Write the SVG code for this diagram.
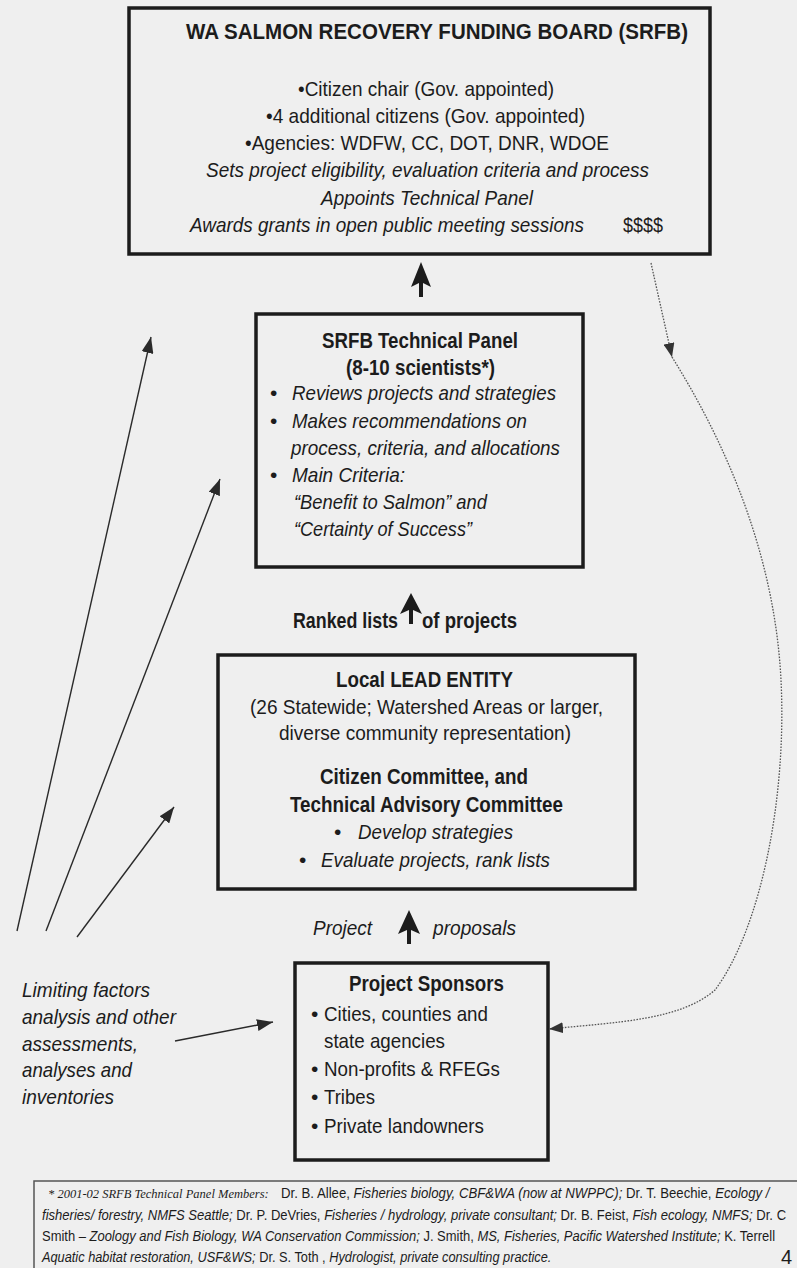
<svg xmlns="http://www.w3.org/2000/svg" width="797" height="1268" viewBox="0 0 797 1268">
<defs>
<style>
.t{font-family:'Liberation Sans Narrow','Liberation Sans',Arial,sans-serif;font-size:21px;fill:#1c1c1c}
.b{font-weight:bold;font-size:22px}
.i{font-style:italic}
.box{fill:none;stroke:#1c1c1c;stroke-width:3.5}
.fn{font-family:'Liberation Sans',Arial,sans-serif;font-size:14px;fill:#1c1c1c}
.fs{font-family:'Liberation Serif','Times New Roman',serif;font-style:italic;font-size:12.5px;fill:#1c1c1c}
.thin{stroke:#2a2a2a;stroke-width:1.4;fill:none}
.dot{stroke:#555;stroke-width:1.3;stroke-dasharray:1.6 1.4;fill:none}
.thick{fill:#1c1c1c}
</style>
<marker id="ah" viewBox="0 0 16 12" refX="16" refY="6" markerWidth="16" markerHeight="12" orient="auto" markerUnits="userSpaceOnUse">
<path d="M0,0 L16,6 L0,12 Z" fill="#2a2a2a"/>
</marker>
<marker id="ahd" viewBox="0 0 14 11" refX="14" refY="5.5" markerWidth="14" markerHeight="11" orient="auto" markerUnits="userSpaceOnUse">
<path d="M0,0 L14,5.5 L0,11 Z" fill="#333"/>
</marker>
</defs>
<rect x="0" y="0" width="797" height="1268" fill="#efefef"/>

<g id="srfb">
<rect class="box" x="129" y="8" width="581" height="246" stroke-width="4"/>
<text class="t b" x="186" y="39" textLength="502" lengthAdjust="spacingAndGlyphs">WA SALMON RECOVERY FUNDING BOARD (SRFB)</text>
<text class="t" x="298" y="96" textLength="256" lengthAdjust="spacingAndGlyphs">•Citizen chair (Gov. appointed)</text>
<text class="t" x="266" y="123" textLength="319" lengthAdjust="spacingAndGlyphs">•4 additional citizens (Gov. appointed)</text>
<text class="t" x="245" y="150" textLength="364" lengthAdjust="spacingAndGlyphs">•Agencies: WDFW, CC, DOT, DNR, WDOE</text>
<text class="t i" x="206" y="177" textLength="443" lengthAdjust="spacingAndGlyphs">Sets project eligibility, evaluation criteria and process</text>
<text class="t i" x="321" y="205" textLength="212" lengthAdjust="spacingAndGlyphs">Appoints Technical Panel</text>
<text class="t i" x="190" y="232" textLength="394" lengthAdjust="spacingAndGlyphs">Awards grants in open public meeting sessions</text>
<text class="t" x="623" y="232" textLength="40" lengthAdjust="spacingAndGlyphs">$$$$</text>
</g>

<g id="panel">
<rect class="box" x="256" y="314" width="327" height="253"/>
<text class="t b" x="322" y="348" textLength="196" lengthAdjust="spacingAndGlyphs">SRFB Technical Panel</text>
<text class="t b" x="346" y="375" textLength="149" lengthAdjust="spacingAndGlyphs">(8-10 scientists*)</text>
<text class="t" x="270" y="400">•</text>
<text class="t i" x="292" y="400" textLength="264" lengthAdjust="spacingAndGlyphs">Reviews projects and strategies</text>
<text class="t" x="270" y="428">•</text>
<text class="t i" x="292" y="428" textLength="235" lengthAdjust="spacingAndGlyphs">Makes recommendations on</text>
<text class="t i" x="291" y="455" textLength="269" lengthAdjust="spacingAndGlyphs">process, criteria, and allocations</text>
<text class="t" x="270" y="482">•</text>
<text class="t i" x="292" y="482" textLength="113" lengthAdjust="spacingAndGlyphs">Main Criteria:</text>
<text class="t i" x="294" y="509" textLength="193" lengthAdjust="spacingAndGlyphs">“Benefit to Salmon” and</text>
<text class="t i" x="294" y="536" textLength="178" lengthAdjust="spacingAndGlyphs">“Certainty of Success”</text>
</g>

<g id="lead">
<rect class="box" x="218" y="655" width="417" height="234"/>
<text class="t b" x="336" y="687" textLength="177" lengthAdjust="spacingAndGlyphs">Local LEAD ENTITY</text>
<text class="t" x="250" y="714" textLength="353" lengthAdjust="spacingAndGlyphs">(26 Statewide; Watershed Areas or larger,</text>
<text class="t" x="279" y="740" textLength="292" lengthAdjust="spacingAndGlyphs">diverse community representation)</text>
<text class="t b" x="320" y="784" textLength="208" lengthAdjust="spacingAndGlyphs">Citizen Committee, and</text>
<text class="t b" x="290" y="812" textLength="273" lengthAdjust="spacingAndGlyphs">Technical Advisory Committee</text>
<text class="t" x="334" y="839">•</text>
<text class="t i" x="358" y="839" textLength="155" lengthAdjust="spacingAndGlyphs">Develop strategies</text>
<text class="t" x="299" y="867">•</text>
<text class="t i" x="321" y="867" textLength="229" lengthAdjust="spacingAndGlyphs">Evaluate projects, rank lists</text>
</g>

<g id="sponsors">
<rect class="box" x="295" y="963" width="253" height="197"/>
<text class="t b" x="349" y="991" textLength="155" lengthAdjust="spacingAndGlyphs">Project Sponsors</text>
<text class="t" x="311" y="1021">•</text>
<text class="t" x="324" y="1021" textLength="164" lengthAdjust="spacingAndGlyphs">Cities, counties and</text>
<text class="t" x="324" y="1048" textLength="121" lengthAdjust="spacingAndGlyphs">state agencies</text>
<text class="t" x="311" y="1076">•</text>
<text class="t" x="324" y="1076" textLength="176" lengthAdjust="spacingAndGlyphs">Non-profits &amp; RFEGs</text>
<text class="t" x="311" y="1104">•</text>
<text class="t" x="324" y="1104" textLength="51" lengthAdjust="spacingAndGlyphs">Tribes</text>
<text class="t" x="311" y="1133">•</text>
<text class="t" x="324" y="1133" textLength="160" lengthAdjust="spacingAndGlyphs">Private landowners</text>
</g>

<g id="inputs">
<text class="t i" x="22" y="997" textLength="128" lengthAdjust="spacingAndGlyphs">Limiting factors</text>
<text class="t i" x="22" y="1024" textLength="154" lengthAdjust="spacingAndGlyphs">analysis and other</text>
<text class="t i" x="22" y="1051" textLength="116" lengthAdjust="spacingAndGlyphs">assessments,</text>
<text class="t i" x="22" y="1077" textLength="110" lengthAdjust="spacingAndGlyphs">analyses and</text>
<text class="t i" x="22" y="1104" textLength="92" lengthAdjust="spacingAndGlyphs">inventories</text>
</g>

<g id="connectors">
<path class="thick" d="M421,262 L431,287 L423,283 L423,297 L419,297 L419,283 L411,287 Z"/>
<path class="thick" d="M411,593 L422,614 L413,610 L413,624 L409,624 L409,610 L400,614 Z"/>
<path class="thick" d="M409,910 L420,934 L411,930 L411,944 L407,944 L407,930 L398,934 Z"/>
<text class="t b" x="293" y="628" textLength="105" lengthAdjust="spacingAndGlyphs">Ranked lists</text>
<text class="t b" x="422" y="628" textLength="95" lengthAdjust="spacingAndGlyphs">of projects</text>
<text class="t i" x="313" y="935" textLength="59" lengthAdjust="spacingAndGlyphs">Project</text>
<text class="t i" x="433" y="935" textLength="83" lengthAdjust="spacingAndGlyphs">proposals</text>
<line class="thin" x1="17" y1="931" x2="151" y2="337" marker-end="url(#ah)"/>
<line class="thin" x1="46" y1="931" x2="220" y2="479" marker-end="url(#ah)"/>
<line class="thin" x1="77" y1="937" x2="174" y2="807" marker-end="url(#ah)"/>
<line class="thin" x1="175" y1="1041" x2="273" y2="1022" marker-end="url(#ah)"/>
<path class="dot" d="M651,263 L672,357" marker-end="url(#ahd)"/>
<path class="dot" d="M672,357 C730,450 775,560 781,680 C787,800 760,930 715,990 C680,1020 620,1022 549,1029" marker-end="url(#ahd)"/>
</g>

<g id="footnote">
<rect x="34" y="1181" width="800" height="110" fill="none" stroke="#555" stroke-width="1.5"/>
<text class="fs" x="48" y="1198">* 2001-02 SRFB Technical Panel Members:</text>
<text class="fn" transform="translate(281,1198) scale(0.943,1)">Dr. B. Allee, <tspan class="i">Fisheries biology, CBF&amp;WA (now at NWPPC);</tspan> Dr. T. Beechie, <tspan class="i">Ecology /</tspan></text>
<text class="fn" transform="translate(42,1220) scale(0.934,1)"><tspan class="i">fisheries/ forestry, NMFS Seattle;</tspan> Dr. P. DeVries, <tspan class="i">Fisheries / hydrology, private consultant;</tspan> Dr. B. Feist, <tspan class="i">Fish ecology, NMFS;</tspan> Dr. C</text>
<text class="fn" transform="translate(42,1241) scale(0.926,1)">Smith – <tspan class="i">Zoology and Fish Biology, WA Conservation Commission;</tspan> J. Smith, <tspan class="i">MS, Fisheries, Pacific Watershed Institute;</tspan> K. Terrell</text>
<text class="fn" transform="translate(42,1262) scale(0.913,1)"><tspan class="i">Aquatic habitat restoration, USF&amp;WS;</tspan> Dr. S. Toth , <tspan class="i">Hydrologist, private consulting practice.</tspan></text>
<text class="fn" x="781" y="1264" style="font-size:20px">4</text>
</g>
</svg>
